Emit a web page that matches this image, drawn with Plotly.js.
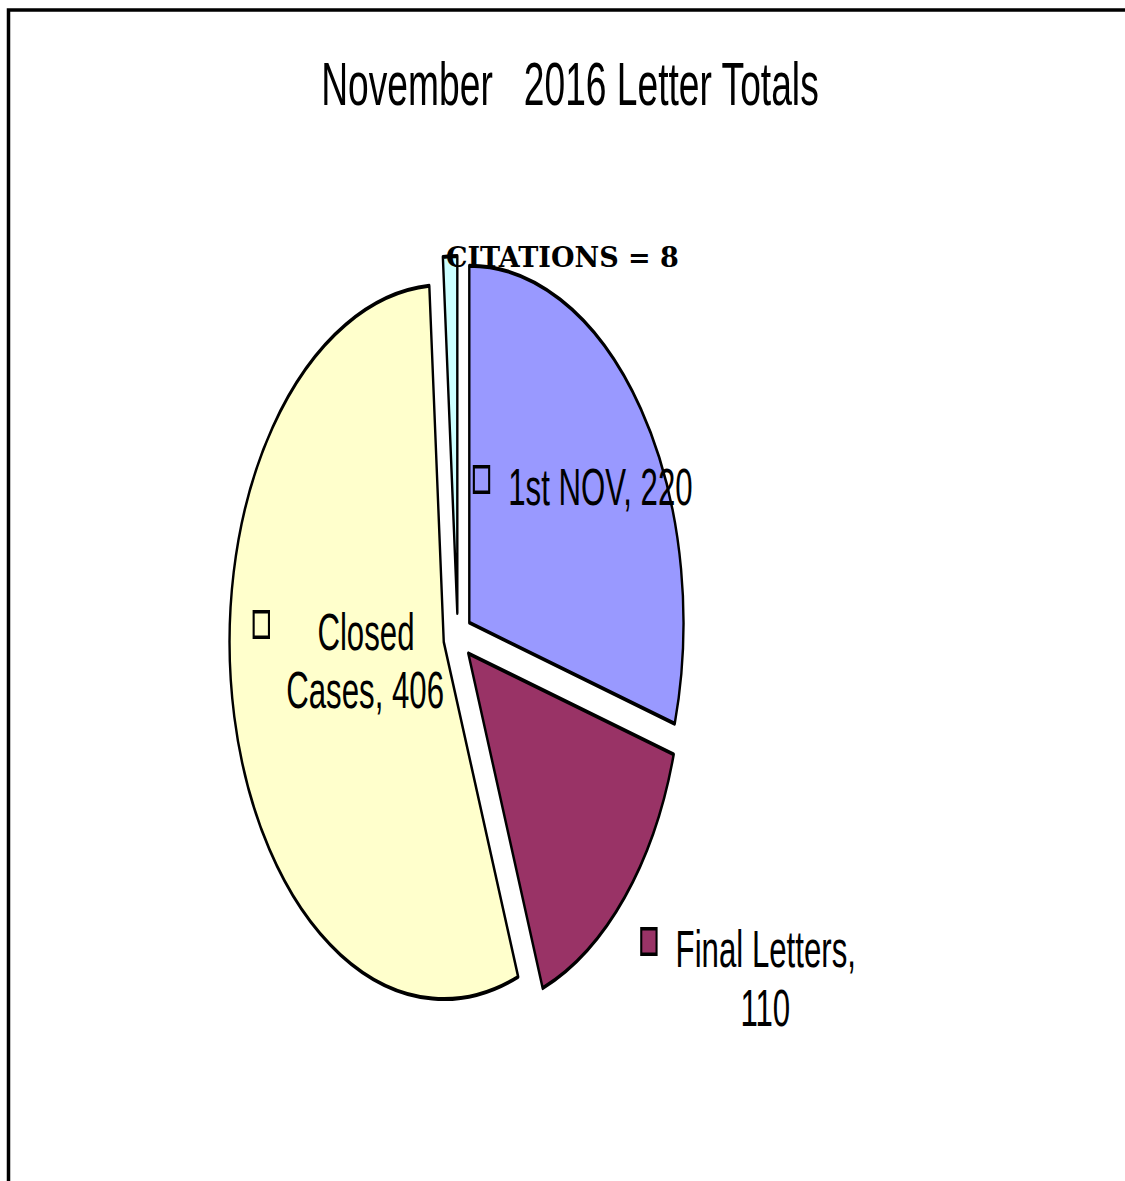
<!DOCTYPE html>
<html><head><meta charset="utf-8">
<script src="https://cdn.plot.ly/plotly-3.0.1.min.js"></script>
<style>
html,body{margin:0;padding:0;overflow:hidden;background:#fff;width:1125px;height:1181px;}
#wrap{position:relative;width:1125px;height:1181px;overflow:hidden;}
#pie{position:absolute;left:0;top:0;width:1875px;height:1181px;transform:scaleX(0.6);transform-origin:0 0;}
#overlay{position:absolute;left:0;top:0;width:1125px;height:1181px;pointer-events:none;}
</style></head><body>
<div id="wrap"><div id="pie"></div><div id="overlay"></div></div>
<script>
// ---- data ----
const categories = ["1st NOV", "Final Letters", "Closed Cases", "CITATIONS"];
const values = [220, 110, 406, 8];
const colors = ["#9999FF", "#993366", "#FFFFCC", "#CCFFFF"];
const chartTitle = "November\u00A0\u00A0 2016 Letter Totals";

// ---- layout helpers (page pixels) ----
const SX = 0.6, W = 1875, H = 1181;
const px = x => (x / SX) / W;           // page x -> paper x of stretched plot
const py = y => 1 - y / H;              // page y -> paper y
const cxPage = 457.8, cy = 637, r = 357, pull = 0.067;
const half = r * (1 + pull);
const cxU = cxPage / SX;

// label placement: [line centres], first-line word count, key square
const labelPlace = [
  {lines: [[600, 487]], k: null, key: [481.5, 479.5]},
  {lines: [[766, 949], [765, 1008]], k: 2, key: [649, 941.5]},
  {lines: [[366, 632], [365, 690]], k: 1, key: [261.5, 624.5]}
];

const annotations = [];
labelPlace.forEach((p, i) => {
  const full = categories[i] + ", " + values[i];
  let parts = [full];
  if (p.k) { const w = full.split(" "); parts = [w.slice(0, p.k).join(" "), w.slice(p.k).join(" ")]; }
  parts.forEach((t, j) => annotations.push({
    text: t, showarrow: false, xref: "paper", yref: "paper",
    x: px(p.lines[j][0]), y: py(p.lines[j][1]), xanchor: "center", yanchor: "middle",
    font: {family: "Liberation Sans, Arial, sans-serif", size: 52, color: "#000"}
  }));
  annotations.push({
    text: " ", showarrow: false, xref: "paper", yref: "paper",
    x: px(p.key[0]), y: py(p.key[1]), xanchor: "center", yanchor: "middle",
    width: 22, height: 22, bgcolor: colors[i], bordercolor: "#000", borderwidth: 3.5, borderpad: 0,
    font: {size: 10}
  });
});

Plotly.newPlot("pie", [{
  type: "pie", labels: categories, values: values, sort: false, direction: "clockwise",
  rotation: 0, pull: pull, textinfo: "none", hoverinfo: "label+value",
  marker: {colors: colors, line: {color: "#000", width: 4}},
  domain: {x: [(cxU - half) / W, (cxU + half) / W], y: [py(cy + half), py(cy - half)]}
}], {
  width: W, height: H, margin: {l: 0, r: 0, t: 0, b: 0},
  paper_bgcolor: "rgba(0,0,0,0)", showlegend: false,
  title: {text: chartTitle, x: px(570), xanchor: "center", xref: "paper",
          y: py(83), yanchor: "middle", yref: "container",
          font: {family: "Liberation Sans, Arial, sans-serif", size: 62, color: "#000"}},
  annotations: annotations
}, {staticPlot: true});

Plotly.newPlot("overlay", [], {
  width: 1125, height: 1181, margin: {l: 0, r: 0, t: 0, b: 0},
  paper_bgcolor: "rgba(0,0,0,0)", plot_bgcolor: "rgba(0,0,0,0)",
  xaxis: {visible: false}, yaxis: {visible: false}, showlegend: false,
  shapes: [{type: "rect", xref: "paper", yref: "paper",
            x0: 8.5 / 1125, x1: 1.2, y0: -0.2, y1: 1 - 10 / 1181,
            line: {color: "#000", width: 3.5}, fillcolor: "rgba(0,0,0,0)"}],
  annotations: [{
    text: "<b>" + categories[3] + " = " + values[3] + "</b>", showarrow: false,
    xref: "paper", yref: "paper", x: 562 / 1125, y: 1 - 257 / 1181,
    xanchor: "center", yanchor: "middle",
    font: {family: "DejaVu Serif, serif", size: 27, color: "#000"}
  }]
}, {staticPlot: true});
</script>
</body></html>
